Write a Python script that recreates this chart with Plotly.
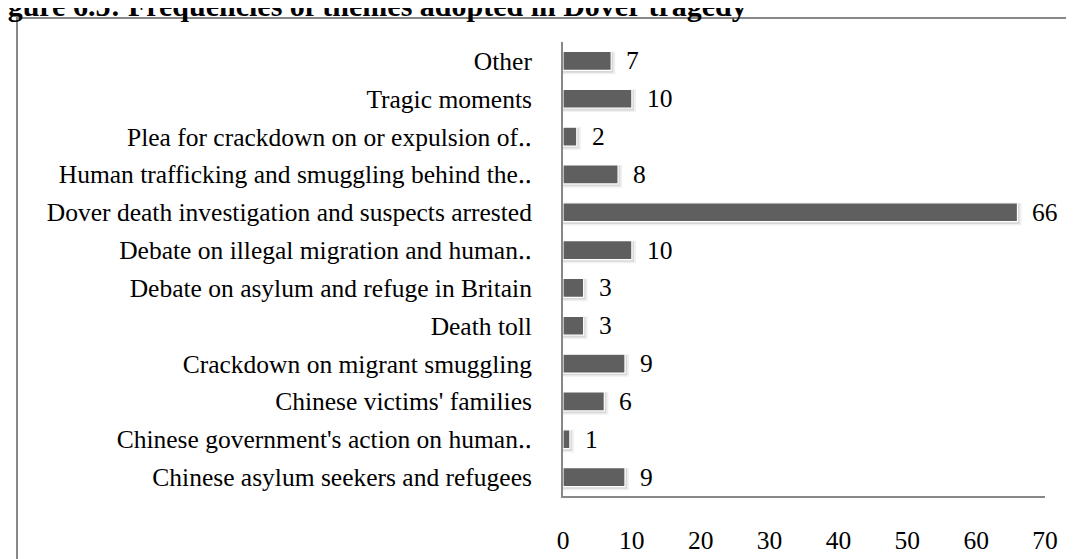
import plotly.graph_objects as go

categories = [
    "Chinese asylum seekers and refugees",
    "Chinese government's action on human\u2025",
    "Chinese victims' families",
    "Crackdown on migrant smuggling",
    "Death toll",
    "Debate on asylum and refuge in Britain",
    "Debate on illegal migration and human\u2025",
    "Dover death investigation and suspects arrested",
    "Human trafficking and smuggling behind the\u2025",
    "Plea for crackdown on or expulsion of\u2025",
    "Tragic moments",
    "Other",
]
values = [9, 1, 6, 9, 3, 3, 10, 66, 8, 2, 10, 7]
x_ticks = [0, 10, 20, 30, 40, 50, 60, 70]
title_text = "Figure 6.5: Frequencies of themes adopted in Dover tragedy"

FONT = "Liberation Serif, Times New Roman, serif"
W, H = 1074, 559
L, R, T, B = 555, 37, 34, 62
pw, ph = W - L - R, H - T - B

fig = go.Figure()
# soft shadow layers behind bars
shadow_outer = [v + 0.6 for v in values]
shadow_inner = [v + 0.3 for v in values]
fig.add_trace(go.Bar(
    y=categories, x=shadow_outer, orientation="h",
    width=0.6, offset=-0.35,
    marker=dict(color="rgba(0,0,0,0.06)", line=dict(width=0)),
    hoverinfo="skip", showlegend=False,
))
fig.add_trace(go.Bar(
    y=categories, x=shadow_inner, orientation="h",
    width=0.54, offset=-0.31,
    marker=dict(color="rgba(0,0,0,0.10)", line=dict(width=0)),
    hoverinfo="skip", showlegend=False,
))
fig.add_trace(go.Bar(
    y=categories, x=values, orientation="h",
    width=0.5, offset=-0.25,
    marker=dict(color="#5f5f5f", line=dict(color="white", width=1.2)),
    showlegend=False,
))

for c, v in zip(categories, values):
    fig.add_annotation(x=v, y=c, text=str(v), showarrow=False,
                       xanchor="left", xshift=13,
                       font=dict(family=FONT, size=25.5, color="black"))

# outer border
fig.add_shape(type="rect", xref="paper", yref="paper",
              x0=(9 - L) / pw, x1=(1073 - L) / pw,
              y0=(H - B - 620) / ph, y1=(H - B - 9.5) / ph,
              line=dict(color="#888888", width=2), layer="below")

fig.add_annotation(xref="paper", yref="paper",
                   x=(-29 - L) / pw, y=(H - B - 16) / ph,
                   xanchor="left", yanchor="bottom", showarrow=False,
                   text="<b>" + title_text + "</b>",
                   font=dict(family=FONT, size=30, color="black"))

fig.update_layout(
    width=W, height=H,
    margin=dict(l=L, r=R, t=T, b=B, pad=0),
    paper_bgcolor="white", plot_bgcolor="white",
    barmode="overlay",
    font=dict(family=FONT, size=25.5, color="black"),
    xaxis=dict(range=[0, 70], tickvals=x_ticks, showgrid=False,
               zeroline=False, showline=True, linecolor="#888888",
               linewidth=2, ticks="outside", ticklen=20,
               tickcolor="rgba(0,0,0,0)",
               tickfont=dict(family=FONT, size=25.5)),
    yaxis=dict(categoryorder="array", categoryarray=categories,
               range=[-0.5, 11.5], showgrid=False, zeroline=False,
               showline=True, linecolor="#888888", linewidth=2,
               ticks="outside", ticklen=24, tickcolor="rgba(0,0,0,0)",
               tickfont=dict(family=FONT, size=25.5)),
)

fig.write_html("out.html")
